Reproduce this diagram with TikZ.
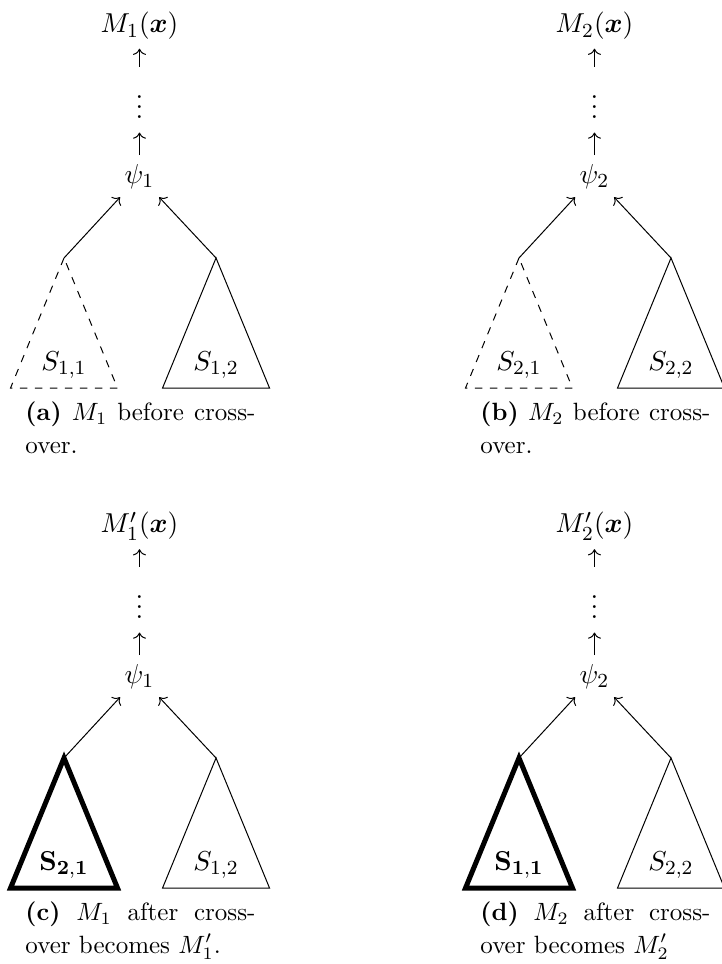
\documentclass[tikz,border=0pt]{standalone}
\usepackage{amsmath}
\usepackage{amssymb}
\usepackage{tikz}
\usetikzlibrary{
    calc,
    arrows.meta
}
\tolerance=2000
\tikzset{
  treetext/.style={font=\fontsize{10.95}{13.6}\selectfont},
  dotsbox/.style={treetext, minimum height=26pt},
  subcap/.style={anchor=base west, text width=92pt, align=justify,
    inner sep=0pt, font=\fontsize{10}{13}\selectfont},
  removed/.style={dashed},
  inserted/.style={line width=2pt}
}
\newcommand{\SubTree}[4]{%
  \coordinate (#1) at (#2);
  \draw[#4] (#1) -- ++(-0.752,-1.828) -- ++(1.504,0) -- cycle;
  \node[treetext, anchor=base] (#1lbl) at ($(#1)+(0,-1.582)$) {#3};
}
\newcommand{\ModelTree}[7]{%
  \node[treetext, anchor=base] (#1out) at (1.961,13.088) {#2};
  \node[dotsbox] (#1dots) at (1.961,12.153) {$\vdots$};
  \node[treetext, anchor=base] (#1root) at (1.961,10.979) {#3};
  \draw[->] (#1dots) -- (#1out);
  \draw[->] (#1root) -- (#1dots);
  \SubTree{#1l}{0.900,9.925}{#4}{#5}
  \SubTree{#1r}{3.037,9.925}{#6}{}
  \draw[->] (#1l) -- (#1root);
  \draw[->] (#1r) -- (#1root);
  \node[subcap] (#1cap) at (0.351,7.640) {#7};
}

\begin{document}
\begin{tikzpicture}
  \useasboundingbox (0,0) rectangle (10.136,13.552);

  % before cross-over
  \ModelTree{a}{$M_1(\boldsymbol{x})$}{$\psi_1$}{$S_{1,1}$}{removed}{$S_{1,2}$}
    {\textbf{(a)} $M_1$ before cross-over.}
  \begin{scope}[shift={(6.396,0)}]
    \ModelTree{b}{$M_2(\boldsymbol{x})$}{$\psi_2$}{$S_{2,1}$}{removed}{$S_{2,2}$}
      {\textbf{(b)} $M_2$ before cross-over.}
  \end{scope}

  % after cross-over
  \begin{scope}[shift={(0,-7.029)}]
    \ModelTree{c}{$M'_1(\boldsymbol{x})$}{$\psi_1$}{$\mathbf{S_{2,1}}$}{inserted}{$S_{1,2}$}
      {\textbf{(c)} $M_1$ after cross-over becomes $M'_1$.}
  \end{scope}
  \begin{scope}[shift={(6.396,-7.029)}]
    \ModelTree{d}{$M'_2(\boldsymbol{x})$}{$\psi_2$}{$\mathbf{S_{1,1}}$}{inserted}{$S_{2,2}$}
      {\textbf{(d)} $M_2$ after cross-over becomes $M'_2$}
  \end{scope}
\end{tikzpicture}
\end{document}
